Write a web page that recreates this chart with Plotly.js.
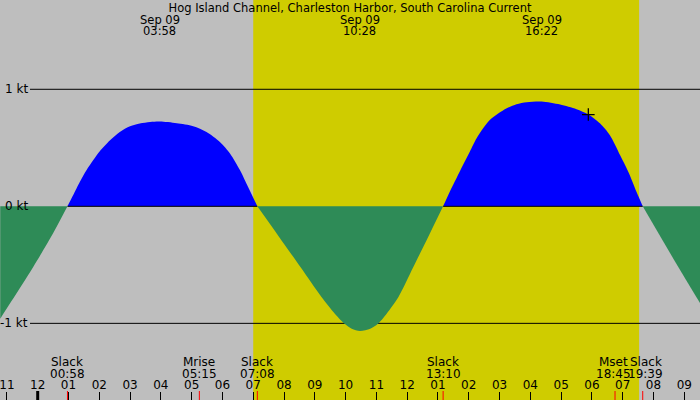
<!DOCTYPE html>
<html>
<head>
<meta charset="utf-8">
<script src="https://cdn.plot.ly/plotly-3.0.1.min.js"></script>
<style>
  body { margin: 0; background: #BEBEBE; }
  #graphique { width: 700px; height: 400px; }
</style>
</head>
<body>
<div id="graphique"></div>
<script>
// courant de marée (noeuds, + = flot, - = jusant)
var heures = [
  '2024-09-08 22:47', '2024-09-08 23:09', '2024-09-08 23:51', '2024-09-09 00:30',
  '2024-09-09 00:58', '2024-09-09 01:09', '2024-09-09 01:22', '2024-09-09 01:35',
  '2024-09-09 01:48', '2024-09-09 02:01', '2024-09-09 02:21', '2024-09-09 02:40',
  '2024-09-09 03:00', '2024-09-09 03:19', '2024-09-09 03:39', '2024-09-09 03:58',
  '2024-09-09 04:31', '2024-09-09 05:03', '2024-09-09 05:29', '2024-09-09 05:55',
  '2024-09-09 06:15', '2024-09-09 06:34', '2024-09-09 06:50', '2024-09-09 07:08',
  '2024-09-09 07:46', '2024-09-09 08:32', '2024-09-09 09:13', '2024-09-09 09:39',
  '2024-09-09 09:58', '2024-09-09 10:12', '2024-09-09 10:28', '2024-09-09 10:48',
  '2024-09-09 11:03', '2024-09-09 11:20', '2024-09-09 11:43', '2024-09-09 12:12',
  '2024-09-09 12:44', '2024-09-09 13:10', '2024-09-09 13:23', '2024-09-09 13:36',
  '2024-09-09 13:49', '2024-09-09 14:02', '2024-09-09 14:15', '2024-09-09 14:28',
  '2024-09-09 14:41', '2024-09-09 14:58', '2024-09-09 15:14', '2024-09-09 15:33',
  '2024-09-09 15:53', '2024-09-09 16:22', '2024-09-09 16:58', '2024-09-09 17:30',
  '2024-09-09 17:53', '2024-09-09 18:16', '2024-09-09 18:35', '2024-09-09 18:55',
  '2024-09-09 19:11', '2024-09-09 19:27', '2024-09-09 19:39', '2024-09-09 20:39',
  '2024-09-09 21:31'
];
var noeuds = [
  -0.96, -0.81, -0.52, -0.23,
  0, 0.094, 0.208, 0.308,
  0.393, 0.47, 0.564, 0.635,
  0.684, 0.707, 0.72, 0.724,
  0.71, 0.685, 0.635, 0.55,
  0.45, 0.31, 0.165, 0,
  -0.234, -0.519, -0.775, -0.917,
  -1.003, -1.046, -1.066, -1.046,
  -1.003, -0.917, -0.775, -0.519,
  -0.234, 0, 0.125, 0.24,
  0.355, 0.467, 0.58, 0.667,
  0.738, 0.795, 0.838, 0.872,
  0.889, 0.895, 0.869, 0.829,
  0.784, 0.707, 0.607, 0.436,
  0.293, 0.122, 0, -0.45,
  -0.83
];

// maxima / minima (étiquettes du haut)
var picsHeures = ['2024-09-09 03:58', '2024-09-09 10:28', '2024-09-09 16:22'];
var picsDate = 'Sep 09';

// événements (étiquettes du bas)
var evtNoms = ['Slack', 'Mrise', 'Slack', 'Slack', 'Mset', 'Slack'];
var evtHeures = ['2024-09-09 00:58', '2024-09-09 05:15', '2024-09-09 07:08',
                 '2024-09-09 13:10', '2024-09-09 18:45', '2024-09-09 19:39'];

// jour / nuit
var leverSoleil = '2024-09-09 07:00';
var coucherSoleil = '2024-09-09 19:32';
var minuit = '2024-09-09 00:00';

// heure actuelle (la croix)
var maintenantHeure = '2024-09-09 17:53';
var maintenantNoeuds = 0.784;

var niveaux = [1, 0, -1];
var titre = 'Hog Island Channel, Charleston Harbor, South Carolina Current';

var police = 'DejaVu Sans, sans-serif';

// découpe la courbe en lobes (d'un étale à l'autre)
function decouperLobes() {
    var lobes = [];
    var cur = { x: [], y: [] };
    for (var i = 0; i < heures.length; i++) {
        cur.x.push(heures[i]);
        cur.y.push(noeuds[i]);
        if (noeuds[i] === 0 && cur.x.length > 1) {
            lobes.push(cur);
            cur = { x: [heures[i]], y: [0] };
        }
    }
    if (cur.x.length > 1) lobes.push(cur);
    return lobes;
}

function creerGraphique() {
    var traces = decouperLobes().map(function(l) {
        var flot = l.y.some(function(v) { return v > 0; });
        return {
            x: l.x, y: l.y,
            type: 'scatter', mode: 'lines',
            line: { width: 0, shape: 'spline', smoothing: 0.8 },
            fill: 'tozeroy', fillcolor: flot ? '#0000FF' : '#2E8B57',
            hoverinfo: 'skip'
        };
    });
    traces.push({
        x: [maintenantHeure], y: [maintenantNoeuds],
        type: 'scatter', mode: 'markers',
        marker: { symbol: 'cross-thin', size: 9, line: { color: '#000', width: 1.3 } },
        hoverinfo: 'skip'
    });

    var formes = [];
    // le jour en jaune
    formes.push({
        type: 'rect', layer: 'below', xref: 'x', yref: 'paper',
        x0: leverSoleil, x1: coucherSoleil, y0: 0, y1: 1,
        fillcolor: '#CFCC00', line: { width: 0 }
    });
    // lignes 1 kt et -1 kt (sous les courbes)
    niveaux.forEach(function(n) {
        if (n === 0) return;
        formes.push({
            type: 'line', layer: 'below', xref: 'paper', yref: 'y',
            x0: 30 / 700, x1: 1, y0: n, y1: n,
            line: { color: '#000', width: 1 }
        });
    });
    // ligne 0 : visible seulement sous le flot
    var slacks = evtHeures.filter(function(h, i) { return evtNoms[i] === 'Slack'; });
    for (var i = 0; i < slacks.length - 1; i++) {
        var k = heures.indexOf(slacks[i]);
        if (noeuds[k + 1] > 0) {
            formes.push({
                type: 'line', layer: 'above', xref: 'x', yref: 'y',
                x0: slacks[i], x1: slacks[i + 1], y0: 0, y1: 0,
                line: { color: '#000', width: 1 }
            });
        }
    }
    // traits rouges des événements
    evtHeures.forEach(function(h) {
        formes.push({
            type: 'line', layer: 'above', xref: 'x', yref: 'paper',
            x0: h, x1: h, y0: 0, y1: 9 / 400,
            line: { color: '#FF0000', width: 1 }
        });
    });
    // trait épais à minuit
    formes.push({
        type: 'line', layer: 'above', xref: 'x', yref: 'paper',
        x0: minuit, x1: minuit, y0: 0, y1: 9 / 400,
        line: { color: '#000', width: 3 }
    });

    var notes = [];
    niveaux.forEach(function(n) {
        notes.push({
            text: n + ' kt', xref: 'paper', yref: 'y', x: 30 / 700, y: n,
            xanchor: 'right', yanchor: 'middle', showarrow: false,
            font: { family: police, size: 12, color: '#000' }
        });
    });
    picsHeures.forEach(function(h) {
        notes.push({
            text: picsDate, xref: 'x', yref: 'paper', x: h, y: 1 - 20 / 400,
            xanchor: 'center', yanchor: 'middle', showarrow: false,
            font: { family: police, size: 11.5, color: '#000' }
        });
        notes.push({
            text: h.slice(11), xref: 'x', yref: 'paper', x: h, y: 1 - 31.5 / 400,
            xanchor: 'center', yanchor: 'middle', showarrow: false,
            font: { family: police, size: 11.5, color: '#000' }
        });
    });
    // petit décalage pour les étiquettes qui se chevauchent
    var decalage = [0, 0, 0, 0, -2, 3];
    evtHeures.forEach(function(h, i) {
        notes.push({
            text: evtNoms[i], xref: 'x', yref: 'paper', x: h, y: 1 - 361.5 / 400,
            xanchor: 'center', yanchor: 'middle', showarrow: false, xshift: decalage[i],
            font: { family: police, size: 12, color: '#000' }
        });
        notes.push({
            text: h.slice(11), xref: 'x', yref: 'paper', x: h, y: 1 - 374 / 400,
            xanchor: 'center', yanchor: 'middle', showarrow: false, xshift: decalage[i],
            font: { family: police, size: 12, color: '#000' }
        });
    });

    var layout = {
        width: 700, height: 400,
        margin: { t: 0, b: 0, l: 0, r: 0 },
        paper_bgcolor: '#BEBEBE',
        plot_bgcolor: '#BEBEBE',
        showlegend: false,
        title: {
            text: titre,
            font: { family: police, size: 11.5, color: '#000' },
            x: 0.5, xanchor: 'center',
            y: 1 - 8 / 400, yanchor: 'middle', yref: 'container'
        },
        xaxis: {
            type: 'date',
            range: ['2024-09-08 22:46:32', '2024-09-09 21:30:36'],
            tickmode: 'linear', tick0: minuit, dtick: 3600000,
            tickformat: '%I',
            ticks: 'inside', ticklen: 8, tickwidth: 1, tickcolor: '#000',
            ticklabelposition: 'inside',
            ticklabeloverflow: 'allow',
            tickfont: { family: police, size: 12, color: '#000' },
            showgrid: false, zeroline: false, showline: false
        },
        yaxis: {
            range: [-1.655, 1.763],
            showticklabels: false, ticks: '',
            showgrid: false, zeroline: false, showline: false
        },
        shapes: formes,
        annotations: notes
    };

    Plotly.newPlot('graphique', traces, layout, { staticPlot: true });
}

creerGraphique();
</script>
</body>
</html>
